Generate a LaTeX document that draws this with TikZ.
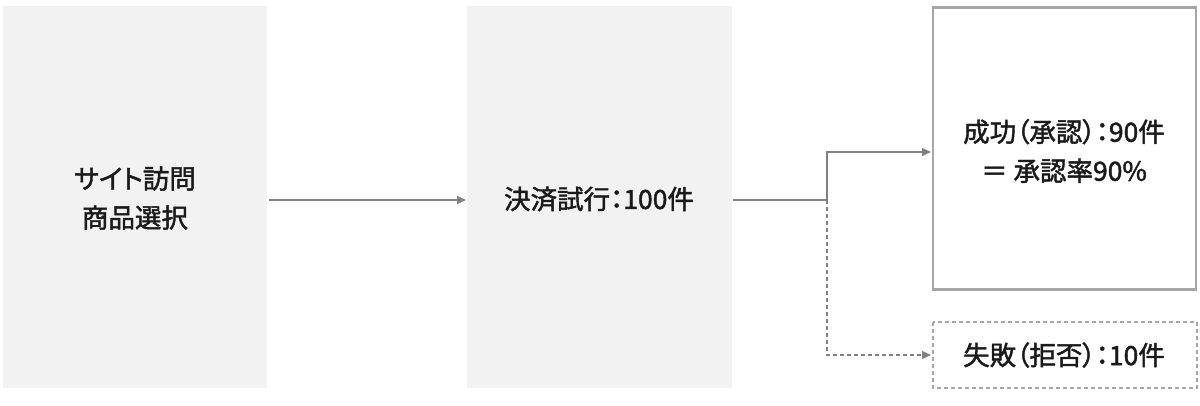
\documentclass[tikz,border=0pt]{standalone}
\usepackage{fontspec}
\setmainfont{Noto Sans CJK JP}[CharacterWidth=AlternateProportional,FakeBold=1.6]
\usetikzlibrary{arrows.meta}
\definecolor{boxfill}{HTML}{F2F2F2}
\definecolor{linegray}{HTML}{808080}
\definecolor{bordergray}{HTML}{A6A6A6}
\definecolor{txt}{HTML}{1A1A1A}
\begin{document}
\begin{tikzpicture}[x=1pt,y=-1pt,
  lbl/.style={text=txt,font=\fontsize{26.5}{39}\selectfont,align=center,inner sep=0pt},
  conn/.style={draw=linegray,line width=1.3pt,-{Triangle[length=9pt,width=8pt]}},
  dconn/.style={conn,dash pattern=on 4pt off 3pt}]
\useasboundingbox (0,0) rectangle (1200,405);
\fill[white] (0,0) rectangle (1200,405);
% boxes
\fill[boxfill] (3,6) rectangle (267,388);
\coordinate (b1e) at (269,200);
\fill[boxfill] (467,6) rectangle (732,388);
\coordinate (b2w) at (466,200);
\coordinate (b2e) at (733,200);
\draw[bordergray,line width=2.5pt] (933,7.5) rectangle (1196,289.5);
\coordinate (b3w) at (931,152);
\draw[bordergray,line width=1.3pt,dash pattern=on 4pt off 3pt] (933,322) rectangle (1197,388);
\coordinate (b4w) at (931,355);
\coordinate (split) at (827,200);
% labels
\node[lbl] (t1) at (135,198) {サイト訪問\\商品選択};
\node[lbl] (t2) at (599,199) {決済試行：100件};
\node[lbl] (t3) at (1064,151) {成功（承認）：90件\\＝ 承認率90\%};
\node[lbl] (t4) at (1064,355) {失敗（拒否）：10件};
% connectors
\draw[conn] (b1e) -- (b2w);
\draw[conn] (b2e) -- (split) |- (b3w);
\draw[dconn] (split) |- (b4w);
\end{tikzpicture}
\end{document}
